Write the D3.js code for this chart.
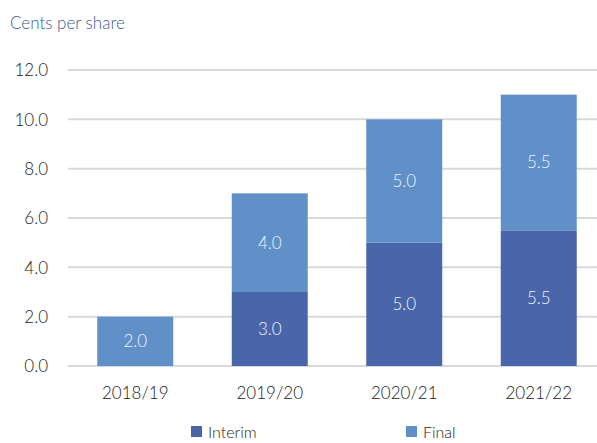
<!DOCTYPE html>
<html>
<head>
<meta charset="utf-8">
<script src="https://cdn.jsdelivr.net/npm/d3@7"></script>
<style>
  body { margin: 0; background: #fff; }
  text { font-family: Lato, "Noto Sans", sans-serif; }
</style>
</head>
<body>
<div id="chart"></div>
<script>
const years = ["2018/19", "2019/20", "2020/21", "2021/22"];
const interim = [0, 3.0, 5.0, 5.5];
const final = [2.0, 4.0, 5.0, 5.5];
const yTicks = [0, 2, 4, 6, 8, 10, 12];
const seriesNames = ["Interim", "Final"];
const colors = ["#4a66ab", "#6190c8"];

const width = 597;
const height = 443;
const font = "Lato, sans-serif";

const svg = d3.select("#chart")
  .append("svg")
  .attr("width", width)
  .attr("height", height);

const data = years.map((y, i) => ({year: y, Interim: interim[i], Final: final[i]}));
const stacked = d3.stack().keys(seriesNames)(data);

// X scale
const xScale = d3.scaleBand()
  .domain(years)
  .range([68, 606])
  .paddingInner(0.435)
  .paddingOuter(0.2175);

// Y scale
const yScale = d3.scaleLinear()
  .domain([0, 12])
  .range([366, 70]);

// Gridlines
svg.append("g")
  .selectAll("line")
  .data(yTicks)
  .join("line")
  .attr("x1", 68)
  .attr("x2", 597)
  .attr("y1", d => yScale(d))
  .attr("y2", d => yScale(d))
  .attr("stroke", "#d9d9d9")
  .attr("stroke-width", 2);

// Y axis labels
svg.append("g")
  .attr("transform", "translate(48,0)")
  .call(d3.axisLeft(yScale).tickValues(yTicks).tickFormat(d3.format(".1f")).tickSize(0))
  .call(g => g.select(".domain").remove())
  .call(g => g.selectAll("text")
    .attr("x", 0)
    .attr("dy", "0.35em")
    .style("font-size", "17px")
    .style("font-family", font)
    .style("font-weight", 300)
    .attr("fill", "#222"));

// Bars
const layers = svg.append("g")
  .selectAll("g")
  .data(stacked)
  .join("g")
  .attr("fill", (d, i) => colors[i]);

layers.selectAll("rect")
  .data(d => d.filter(s => s[1] - s[0] > 0))
  .join("rect")
  .attr("x", d => xScale(d.data.year))
  .attr("y", d => yScale(d[1]))
  .attr("width", xScale.bandwidth())
  .attr("height", d => yScale(d[0]) - yScale(d[1]));

// Value labels
layers.selectAll("text")
  .data(d => d.filter(s => s[1] - s[0] > 0))
  .join("text")
  .attr("x", d => xScale(d.data.year) + xScale.bandwidth() / 2)
  .attr("y", d => yScale((d[0] + d[1]) / 2))
  .attr("dy", "0.35em")
  .attr("text-anchor", "middle")
  .attr("fill", "#eef3fa")
  .style("font-size", "17px")
  .style("font-weight", 300)
  .text(d => d3.format(".1f")(d[1] - d[0]));

// X axis labels
svg.append("g")
  .attr("transform", "translate(0,366)")
  .call(d3.axisBottom(xScale).tickSize(0))
  .call(g => g.select(".domain").remove())
  .call(g => g.selectAll("text")
    .attr("y", 27)
    .attr("dy", "0.35em")
    .style("font-size", "17px")
    .style("font-family", font)
    .style("font-weight", 300)
    .attr("fill", "#222"));

// Title
svg.append("text")
  .attr("x", 10)
  .attr("y", 29)
  .attr("fill", "#3b5b8e")
  .style("font-size", "17px")
  .style("font-weight", 300)
  .text("Cents per share");

// Legend
const legendX = [191, 406];
const legend = svg.append("g")
  .selectAll("g")
  .data(seriesNames)
  .join("g")
  .attr("transform", (d, i) => `translate(${legendX[i]},426)`);

legend.append("rect")
  .attr("width", 11)
  .attr("height", 11)
  .attr("fill", (d, i) => colors[i]);

legend.append("text")
  .attr("x", 17)
  .attr("y", 12)
  .attr("fill", "#222")
  .style("font-size", "16px")
  .style("font-weight", 300)
  .text(d => d);
</script>
</body>
</html>
